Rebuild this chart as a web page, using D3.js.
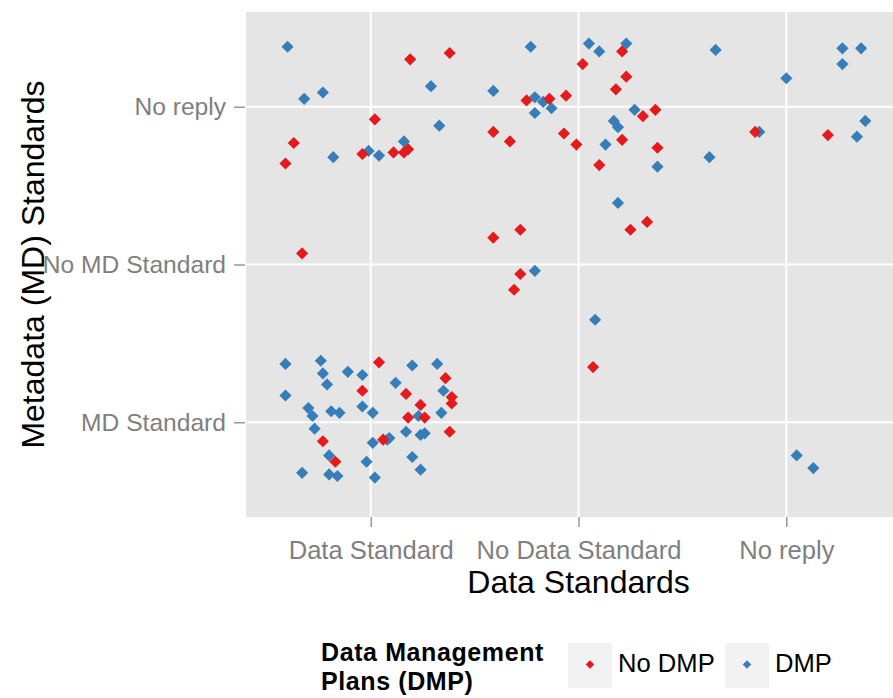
<!DOCTYPE html>
<html>
<head>
<meta charset="utf-8">
<script src="https://cdn.jsdelivr.net/npm/d3@7"></script>
<style>
  body { margin: 0; background: #fff; }
  svg { display: block; font-family: Arial, "Liberation Sans", sans-serif; }
</style>
</head>
<body>
<div id="chart"></div>
<script>
const width = 893, height = 698;

// categories
const dataStandards = ['Data Standard', 'No Data Standard', 'No reply'];
const mdStandards = ['MD Standard', 'No MD Standard', 'No reply'];
const groups = ['No DMP', 'DMP'];
const colors = ['#E41A1C', '#377EB8'];

// jittered positions (1 = first category, 2 = second, 3 = third)
const noDmpX = [0.59, 0.63, 0.67, 0.96, 1.02, 1.11, 1.16, 1.18, 1.19, 1.38,
  1.04, 1.36, 0.96, 1.17, 1.39, 1.39, 1.24, 1.18, 1.26, 1.38, 0.77, 1.06, 0.83,
  2.21, 2.02, 2.23, 2.18, 1.75, 1.86, 1.94, 2.31, 2.37, 1.59, 1.67, 1.93, 1.99, 2.21, 2.38, 2.10,
  2.33, 2.25, 1.72, 1.59, 1.72, 1.69, 2.07,
  2.85, 3.20];
const noDmpY = [2.64, 2.77, 2.07, 2.70, 2.92, 2.71, 2.71, 2.73, 3.30, 3.34,
  1.38, 1.28, 1.20, 1.18, 1.16, 1.12, 1.11, 1.03, 1.03, 0.94, 0.88, 0.89, 0.75,
  3.35, 3.27, 3.19, 3.11, 3.04, 3.05, 3.07, 2.94, 2.98, 2.84, 2.78, 2.83, 2.76, 2.79, 2.74, 2.63,
  2.27, 2.22, 2.22, 2.17, 1.94, 1.84, 1.35,
  2.84, 2.82];

const dmpX = [0.60, 0.68, 0.77, 0.82, 0.99, 1.04, 1.16, 1.29, 1.33,
  0.59, 0.76, 1.20, 1.32, 0.77, 0.89, 0.96, 0.79, 1.12, 0.59, 1.35, 0.70, 0.72, 0.81, 0.85,
  0.96, 1.01, 1.23, 1.34, 0.73, 1.17, 1.24, 1.26, 1.01, 1.08, 1.09, 0.80, 0.98, 1.20, 0.67,
  0.80, 0.84, 1.24, 1.02,
  1.77, 2.05, 2.10, 2.23, 1.59, 1.79, 1.83, 1.87, 1.79, 2.27, 2.17, 2.19, 2.13, 2.38,
  2.19, 1.79, 2.08,
  2.66, 3.27, 3.36, 3.27, 3.00, 2.87, 2.63, 3.38, 3.34, 3.05, 3.13];
const dmpY = [3.38, 3.05, 3.09, 2.68, 2.72, 2.69, 2.78, 3.13, 2.88,
  1.37, 1.39, 1.36, 1.37, 1.31, 1.32, 1.30, 1.24, 1.25, 1.17, 1.20, 1.09, 1.04, 1.07, 1.06,
  1.10, 1.06, 1.04, 1.06, 0.96, 0.94, 0.92, 0.93, 0.87, 0.89, 0.90, 0.79, 0.75, 0.78, 0.68,
  0.67, 0.66, 0.70, 0.65,
  3.38, 3.40, 3.35, 3.40, 3.10, 3.06, 3.03, 2.99, 2.96, 2.98, 2.91, 2.87, 2.76, 2.62,
  2.39, 1.96, 1.65,
  3.36, 3.37, 3.37, 3.27, 3.18, 2.84, 2.68, 2.91, 2.81, 0.79, 0.71];

let points = [];
dmpX.forEach((x, i) => points.push({x: x, y: dmpY[i], g: 'DMP'}));
noDmpX.forEach((x, i) => points.push({x: x, y: noDmpY[i], g: 'No DMP'}));

const panel = {left: 246, right: 911, top: 12, bottom: 517};

let xScale = d3.scaleLinear()
  .domain([0.4, 3.6])
  .range([panel.left, panel.right]);

let yScale = d3.scaleLinear()
  .domain([0.4, 3.6])
  .range([panel.bottom, panel.top]);

let color = d3.scaleOrdinal().domain(groups).range(colors);

const svg = d3.select('#chart').append('svg')
  .attr('width', width)
  .attr('height', height);

svg.append('rect')
  .attr('x', panel.left)
  .attr('y', panel.top)
  .attr('width', panel.right - panel.left)
  .attr('height', panel.bottom - panel.top)
  .style('fill', '#E5E5E5');

// grid
svg.append('g')
  .selectAll('line')
  .data([1, 2, 3])
  .enter()
  .append('line')
  .attr('x1', d => xScale(d)).attr('x2', d => xScale(d))
  .attr('y1', panel.top).attr('y2', panel.bottom)
  .style('stroke', '#fff').style('stroke-width', 2);

svg.append('g')
  .selectAll('line')
  .data([1, 2, 3])
  .enter()
  .append('line')
  .attr('y1', d => yScale(d)).attr('y2', d => yScale(d))
  .attr('x1', panel.left).attr('x2', panel.right)
  .style('stroke', '#fff').style('stroke-width', 2);

// axes
let xAxis = (g) => {
  return g
  .attr('transform', `translate(0, ${panel.bottom})`)
  .call(d3.axisBottom(xScale).tickValues([1, 2, 3])
    .tickFormat((d, i) => dataStandards[i]).tickSize(10).tickPadding(14))
}

let yAxis = (g) => {
  return g
  .attr('transform', `translate(${panel.left - 1},0)`)
  .call(d3.axisLeft(yScale).tickValues([1, 2, 3])
    .tickFormat((d, i) => mdStandards[i]).tickSize(11).tickPadding(8))
}

let gx = svg.append('g').call(xAxis);
let gy = svg.append('g').call(yAxis);

[gx, gy].forEach(g => {
  g.select('.domain').remove();
  g.selectAll('.tick line').style('stroke', '#7F7F7F').style('stroke-width', 1.2);
  g.selectAll('.tick text')
    .style('fill', '#7F7F7F')
    .style('font-size', '25.6px')
    .style('font-family', 'Arial, "Liberation Sans", sans-serif');
});
gy.selectAll('.tick text').style('font-size', '24.6px');

// points
const diamond = d3.symbol().type(d3.symbolSquare).size(74);

svg.append('g')
  .selectAll('path')
  .data(points)
  .enter()
  .append('path')
  .attr('d', diamond)
  .attr('transform', d => `translate(${xScale(d.x)},${yScale(d.y)}) rotate(45)`)
  .style('fill', d => color(d.g));

// axis titles
svg.append('text')
  .attr('x', xScale(2))
  .attr('y', 593)
  .attr('text-anchor', 'middle')
  .style('font-size', '32px')
  .text('Data Standards');

svg.append('text')
  .attr('transform', `translate(44, ${yScale(2)}) rotate(-90)`)
  .attr('text-anchor', 'middle')
  .style('font-size', '32px')
  .text('Metadata (MD) Standards');

// legend
let legend = svg.append('g');

legend.append('text')
  .attr('x', 321)
  .attr('y', 661)
  .style('font-size', '25px')
  .style('letter-spacing', '0.6px')
  .style('font-weight', 'bold')
  .text('Data Management');

legend.append('text')
  .attr('x', 321)
  .attr('y', 690)
  .style('font-size', '25px')
  .style('letter-spacing', '0.6px')
  .style('font-weight', 'bold')
  .text('Plans (DMP)');

const legendX = [568, 725];

let keys = legend.selectAll('g.key')
  .data(groups)
  .enter()
  .append('g')
  .attr('class', 'key')
  .attr('transform', (d, i) => `translate(${legendX[i]}, 643)`);

keys.append('rect')
  .attr('width', 44)
  .attr('height', 45)
  .style('fill', '#F2F2F2');

keys.append('path')
  .attr('d', d3.symbol().type(d3.symbolSquare).size(36))
  .attr('transform', 'translate(22, 21.5) rotate(45)')
  .style('fill', d => color(d));

keys.append('text')
  .attr('x', 50)
  .attr('y', 29)
  .style('font-size', '25.6px')
  .text(d => d);
</script>
</body>
</html>
